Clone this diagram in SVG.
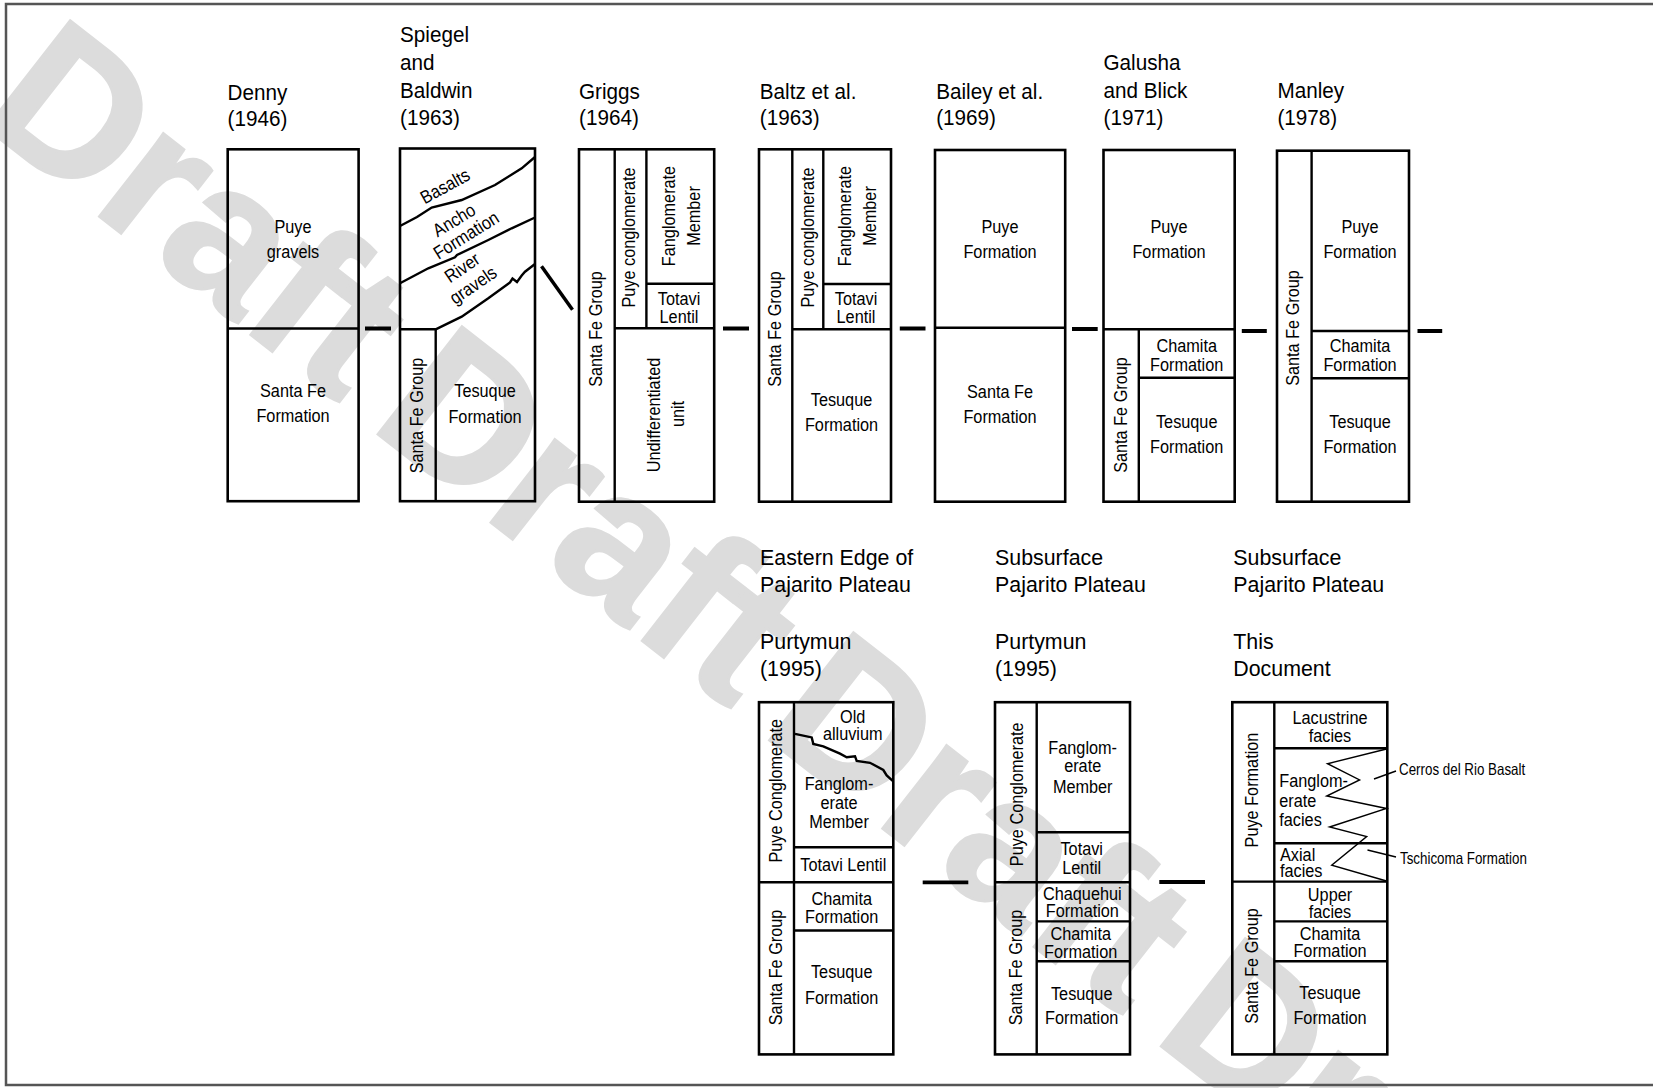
<svg xmlns="http://www.w3.org/2000/svg" width="1653" height="1088" viewBox="0 0 1653 1088">
<style>
text{font-family:"Liberation Sans",Arial,Helvetica,sans-serif;fill:#000}
.ti{font-size:22.5px}
.c{font-size:18.5px;text-anchor:middle}
.l{font-size:18.5px}
.s{font-size:16.3px}
.wm{font-size:198px;font-weight:bold;fill:#dcdcdc;stroke:#dcdcdc;stroke-width:3;word-spacing:-20px}
.bx{fill:none;stroke:#000;stroke-width:2.6}
.ln{fill:none;stroke:#000;stroke-width:2.4}
.ds{fill:none;stroke:#000;stroke-width:3.8}
.thin{fill:none;stroke:#000;stroke-width:1.4}
.frame{fill:none;stroke:#555;stroke-width:2.5}
</style>
<rect width="1653" height="1088" fill="#fff"/>
<text class="wm" transform="translate(-24,120) rotate(38)">Draft Draft Draft Draft</text>
<rect class="frame" x="6" y="4" width="1660" height="1081"/>

<g id="denny">
<text class="ti" transform="translate(227.5,99.5) scale(0.92,1)">Denny<tspan x="0" dy="26.5">(1946)</tspan></text>
<rect class="bx" x="227.7" y="149.3" width="130.9" height="351.9"/>
<path class="ln" d="M227.7 328.5H358.6"/>
<text class="c" transform="translate(293,233) scale(0.88,1)">Puye<tspan x="0" dy="25">gravels</tspan></text>
<text class="c" transform="translate(293,396.5) scale(0.88,1)">Santa Fe<tspan x="0" dy="25.5">Formation</tspan></text>
</g>

<g id="spiegel">
<text class="ti" transform="translate(400,41.8) scale(0.92,1)">Spiegel<tspan x="0" dy="28">and</tspan><tspan x="0" dy="28">Baldwin</tspan><tspan x="0" dy="27.5">(1963)</tspan></text>
<rect class="bx" x="400" y="148.5" width="135" height="352.7"/>
<path class="ln" d="M400 329.3H435.7V501.2"/>
<path class="ln" d="M400 226 L417 217 L431.7 207.5 L461.7 200 L495 185 L521.7 168.3 L535 157"/>
<path class="ln" d="M400 283.3 L428.3 268.3 L455 257.3 L457 255 L488.3 240 L511.7 228.3 L535 217.5"/>
<path class="ln" d="M435.7 329.3 L461.7 316.7 L488.3 298.3 L510 282.5 L512.5 278.5 L517 282 L521.7 275.5 L525 271.7 L535 264"/>
<text class="c" transform="translate(445,186) rotate(-29) scale(0.88,1)" y="6.5">Basalts</text>
<text class="c" transform="translate(454,220) rotate(-31) scale(0.88,1)" y="6.5">Ancho</text>
<text class="c" transform="translate(466,235) rotate(-32) scale(0.88,1)" y="6.5">Formation</text>
<text class="c" transform="translate(462,267.5) rotate(-34) scale(0.88,1)" y="6.5">River</text>
<text class="c" transform="translate(473,285) rotate(-34) scale(0.88,1)" y="6.5">gravels</text>
<text class="c" transform="translate(423,415.5) rotate(-90) scale(0.88,1)">Santa Fe Group</text>
<text class="c" transform="translate(485,396.7) scale(0.88,1)">Tesuque<tspan x="0" dy="26">Formation</tspan></text>
</g>

<g id="griggs">
<text class="ti" transform="translate(579,98.5) scale(0.92,1)">Griggs<tspan x="0" dy="27">(1964)</tspan></text>
<rect class="bx" x="579" y="149.3" width="135.2" height="352.4"/>
<path class="ln" d="M614.7 149.3V501.7M646.4 149.3V328.3M646.4 283.8H714.2M614.7 328.3H714.2"/>
<text class="c" transform="translate(602,329) rotate(-90) scale(0.88,1)">Santa Fe Group</text>
<text class="c" transform="translate(634.6,237.5) rotate(-90) scale(0.88,1)">Puye conglomerate</text>
<text class="c" transform="translate(674.8,216) rotate(-90) scale(0.88,1)">Fanglomerate</text>
<text class="c" transform="translate(699.5,216) rotate(-90) scale(0.88,1)">Member</text>
<text class="c" transform="translate(660.3,415) rotate(-90) scale(0.88,1)">Undifferentiated</text>
<text class="c" transform="translate(684.4,414) rotate(-90) scale(0.88,1)">unit</text>
<text class="c" transform="translate(679,305) scale(0.88,1)">Totavi<tspan x="0" dy="18.5">Lentil</tspan></text>
</g>

<g id="baltz">
<text class="ti" transform="translate(759.8,98.5) scale(0.92,1)">Baltz et al.<tspan x="0" dy="27">(1963)</tspan></text>
<rect class="bx" x="759" y="149.3" width="132" height="352.4"/>
<path class="ln" d="M792.3 149.3V501.7M823.3 149.3V329.3M823.3 284H891M792.3 329.3H891"/>
<text class="c" transform="translate(781,329) rotate(-90) scale(0.88,1)">Santa Fe Group</text>
<text class="c" transform="translate(813.7,237.5) rotate(-90) scale(0.88,1)">Puye conglomerate</text>
<text class="c" transform="translate(850.9,216) rotate(-90) scale(0.88,1)">Fanglomerate</text>
<text class="c" transform="translate(875.7,216) rotate(-90) scale(0.88,1)">Member</text>
<text class="c" transform="translate(856,305) scale(0.88,1)">Totavi<tspan x="0" dy="18.5">Lentil</tspan></text>
<text class="c" transform="translate(841.5,406) scale(0.88,1)">Tesuque<tspan x="0" dy="25.5">Formation</tspan></text>
</g>

<g id="bailey">
<text class="ti" transform="translate(936.2,98.5) scale(0.92,1)">Bailey et al.<tspan x="0" dy="27">(1969)</tspan></text>
<rect class="bx" x="935" y="150" width="130.2" height="351.7"/>
<path class="ln" d="M935 327.7H1065.2"/>
<text class="c" transform="translate(1000,233.3) scale(0.88,1)">Puye<tspan x="0" dy="25">Formation</tspan></text>
<text class="c" transform="translate(1000,398.3) scale(0.88,1)">Santa Fe<tspan x="0" dy="25">Formation</tspan></text>
</g>

<g id="galusha">
<text class="ti" transform="translate(1103.5,70) scale(0.92,1)">Galusha<tspan x="0" dy="27.7">and Blick</tspan><tspan x="0" dy="27.6">(1971)</tspan></text>
<rect class="bx" x="1103.5" y="150" width="131.2" height="351.7"/>
<path class="ln" d="M1103.5 329.3H1234.7M1138.8 329.3V501.7M1138.8 377.7H1234.7"/>
<text class="c" transform="translate(1169,233.3) scale(0.88,1)">Puye<tspan x="0" dy="25">Formation</tspan></text>
<text class="c" transform="translate(1186.7,352.3) scale(0.88,1)">Chamita<tspan x="0" dy="18.4">Formation</tspan></text>
<text class="c" transform="translate(1186.7,427.7) scale(0.88,1)">Tesuque<tspan x="0" dy="25">Formation</tspan></text>
<text class="c" transform="translate(1126.5,415) rotate(-90) scale(0.88,1)">Santa Fe Group</text>
</g>

<g id="manley">
<text class="ti" transform="translate(1277.4,97.7) scale(0.92,1)">Manley<tspan x="0" dy="27.6">(1978)</tspan></text>
<rect class="bx" x="1277" y="150.7" width="132" height="351"/>
<path class="ln" d="M1311.6 150.7V501.7M1311.6 331H1409M1311.6 378.3H1409"/>
<text class="c" transform="translate(1299,328) rotate(-90) scale(0.88,1)">Santa Fe Group</text>
<text class="c" transform="translate(1360,233.3) scale(0.88,1)">Puye<tspan x="0" dy="25">Formation</tspan></text>
<text class="c" transform="translate(1360,352.3) scale(0.88,1)">Chamita<tspan x="0" dy="18.4">Formation</tspan></text>
<text class="c" transform="translate(1360,427.7) scale(0.88,1)">Tesuque<tspan x="0" dy="25">Formation</tspan></text>
</g>

<g id="eastern">
<text class="ti" transform="translate(760,565.3) scale(0.95,1)">Eastern Edge of<tspan x="0" dy="27.2">Pajarito Plateau</tspan></text>
<text class="ti" transform="translate(760,648.6) scale(0.95,1)">Purtymun<tspan x="0" dy="27.2">(1995)</tspan></text>
<rect class="bx" x="759" y="702.2" width="134.3" height="352.2"/>
<path class="ln" d="M794 702.2V1054.4M759 882.3H893.3M794 847.2H893.3M794 930.5H893.3"/>
<path class="ln" d="M795 733.8 L811.7 737.4 L813.3 743.9 L823.3 746.4 L840 753.7 L846.7 757.3 L855 756.2 L856.7 761 L870 762.8 L883.3 770 L886.7 775.4 L892.7 780.9"/>
<text class="c" transform="translate(852.7,722.9) scale(0.88,1)">Old<tspan x="0" dy="17.4">alluvium</tspan></text>
<text class="c" transform="translate(839,790) scale(0.88,1)">Fanglom-<tspan x="0" dy="18.8">erate</tspan><tspan x="0" dy="19.2">Member</tspan></text>
<text class="c" transform="translate(843.3,870.7) scale(0.88,1)">Totavi Lentil</text>
<text class="c" transform="translate(841.7,904.8) scale(0.88,1)">Chamita<tspan x="0" dy="18.5">Formation</tspan></text>
<text class="c" transform="translate(841.7,978.3) scale(0.88,1)">Tesuque<tspan x="0" dy="25.4">Formation</tspan></text>
<text class="c" transform="translate(782.3,790.7) rotate(-90) scale(0.88,1)">Puye Conglomerate</text>
<text class="c" transform="translate(782.3,967.5) rotate(-90) scale(0.88,1)">Santa Fe Group</text>
</g>

<g id="subsurface-purtymun">
<text class="ti" transform="translate(995,565.3) scale(0.95,1)">Subsurface<tspan x="0" dy="27.2">Pajarito Plateau</tspan></text>
<text class="ti" transform="translate(995,648.6) scale(0.95,1)">Purtymun<tspan x="0" dy="27.2">(1995)</tspan></text>
<rect class="bx" x="995" y="702.2" width="135" height="352.2"/>
<path class="ln" d="M1036.7 702.2V1054.4M1036.7 832.3H1130M995 882.3H1130M1036.7 921.4H1130M1036.7 961.3H1130"/>
<text class="c" transform="translate(1082.7,753.7) scale(0.88,1)">Fanglom-<tspan x="0" dy="18.8">erate</tspan><tspan x="0" dy="21">Member</tspan></text>
<text class="c" transform="translate(1081.7,855.1) scale(0.88,1)">Totavi<tspan x="0" dy="19.2">Lentil</tspan></text>
<text class="c" transform="translate(1082.3,900.4) scale(0.88,1)">Chaquehui<tspan x="0" dy="17.1">Formation</tspan></text>
<text class="c" transform="translate(1080.7,939.6) scale(0.88,1)">Chamita<tspan x="0" dy="18.1">Formation</tspan></text>
<text class="c" transform="translate(1081.7,1000) scale(0.88,1)">Tesuque<tspan x="0" dy="23.6">Formation</tspan></text>
<text class="c" transform="translate(1022.5,794.3) rotate(-90) scale(0.88,1)">Puye Conglomerate</text>
<text class="c" transform="translate(1022,967.5) rotate(-90) scale(0.88,1)">Santa Fe Group</text>
</g>

<g id="this-document">
<text class="ti" transform="translate(1233.3,565.3) scale(0.95,1)">Subsurface<tspan x="0" dy="27.2">Pajarito Plateau</tspan></text>
<text class="ti" transform="translate(1233.3,648.6) scale(0.95,1)">This<tspan x="0" dy="27.2">Document</tspan></text>
<rect class="bx" x="1232.3" y="702.2" width="155" height="352.2"/>
<path class="ln" d="M1274.3 702.2V1054.4M1274.3 748.3H1387.3M1274.3 843.2H1387.3M1232.3 881.6H1387.3M1274.3 921.4H1387.3M1274.3 961.3H1387.3"/>
<polyline class="thin" points="1386.5,749 1327.5,763.7 1359.6,780 1326.7,796 1386.5,808.5 1329.6,827 1366.7,836.5 1331.7,865.2 1386.5,881"/>
<path class="thin" d="M1374 779L1396 771M1367.5 850L1396 857"/>
<text class="c" transform="translate(1330,723.6) scale(0.88,1)">Lacustrine<tspan x="0" dy="18.1">facies</tspan></text>
<text class="l" transform="translate(1279.3,787.4) scale(0.88,1)">Fanglom-<tspan x="0" dy="19.6">erate</tspan><tspan x="0" dy="19.2">facies</tspan></text>
<text class="l" transform="translate(1280,860.6) scale(0.88,1)">Axial<tspan x="0" dy="16.3">facies</tspan></text>
<text class="c" transform="translate(1330,901.2) scale(0.88,1)">Upper<tspan x="0" dy="16.3">facies</tspan></text>
<text class="c" transform="translate(1330,940.3) scale(0.88,1)">Chamita<tspan x="0" dy="17">Formation</tspan></text>
<text class="c" transform="translate(1330,999) scale(0.88,1)">Tesuque<tspan x="0" dy="24.6">Formation</tspan></text>
<text class="c" transform="translate(1258.3,790) rotate(-90) scale(0.88,1)">Puye Formation</text>
<text class="c" transform="translate(1258.3,966) rotate(-90) scale(0.88,1)">Santa Fe Group</text>
<text class="s" transform="translate(1399,774.5) scale(0.82,1)">Cerros del Rio Basalt</text>
<text class="s" transform="translate(1400,863.5) scale(0.82,1)">Tschicoma Formation</text>
</g>

<g id="connectors">
<path class="ds" d="M365 328.5H391M723 328.5H749M899.8 328.5H925.5M1072 329H1097.7M1241.8 331H1266.8M1417.5 331H1442.2M922.7 882.3H968.3M1159.3 882H1205"/>
<path class="ds" d="M541.5 266.3L572.5 309.8" style="stroke-width:3.5"/>
</g>
</svg>
